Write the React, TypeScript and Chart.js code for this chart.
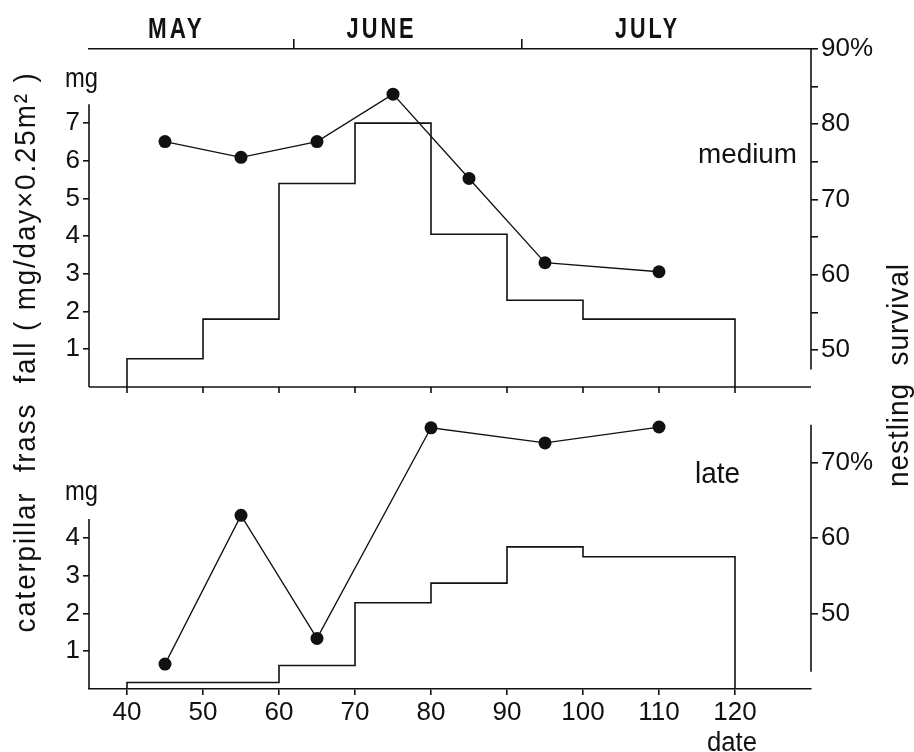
import { useEffect, useRef } from 'react';
import { Chart, registerables } from 'chart.js';

Chart.register(...registerables);

// ---------- data ----------
const DATE_TICKS = [40, 50, 60, 70, 80, 90, 100, 110, 120];
const MONTHS = ['MAY', 'JUNE', 'JULY'];
const MONTH_CENTERS = [46.5, 73.5, 108.5];
const MONTH_STARTS = [62, 92];

const BIN_STARTS = [40, 50, 60, 70, 80, 90, 100, 110];
const BIN_END = 120;
const FRASS_MEDIUM = [0.75, 1.8, 5.4, 7.0, 4.05, 2.3, 1.8, 1.8];
const FRASS_LATE = [0.17, 0.17, 0.62, 2.28, 2.8, 3.76, 3.5, 3.5];

const SURV_MEDIUM_DATES = [45, 55, 65, 75, 85, 95, 110];
const SURV_MEDIUM = [77.7, 75.6, 77.7, 84.0, 72.8, 61.6, 60.4];
const SURV_LATE_DATES = [45, 55, 65, 80, 95, 110];
const SURV_LATE = [43.3, 63.0, 46.7, 74.6, 72.6, 74.7];

const FRASS_TICKS_MEDIUM = [1, 2, 3, 4, 5, 6, 7];
const FRASS_TICKS_LATE = [1, 2, 3, 4];
const SURV_TICKS_MEDIUM = [50, 55, 60, 65, 70, 75, 80, 85, 90];
const SURV_TICKS_LATE = [50, 60, 70];

// ---------- style ----------
const INK = '#111';
const NUM_FONT = "'Liberation Sans', Arial, Helvetica, sans-serif";
const TXT_FONT = "'Liberation Sans', Arial, Helvetica, sans-serif";

type TextOpts = {
  size: number;
  width?: number;
  rotate?: boolean;
  spacing?: number;
  wordSpacing?: number;
  weight?: string;
};

function fitText(ctx: CanvasRenderingContext2D, text: string, cx: number, base: number, o: TextOpts) {
  ctx.save();
  ctx.font = `${o.weight || 'normal'} ${o.size}px ${TXT_FONT}`;
  (ctx as any).letterSpacing = `${o.spacing || 0}px`;
  (ctx as any).wordSpacing = `${o.wordSpacing || 0}px`;
  ctx.fillStyle = INK;
  ctx.textAlign = 'center';
  ctx.textBaseline = 'alphabetic';
  const w = ctx.measureText(text).width;
  const sx = o.width ? o.width / w : 1;
  if (o.rotate) {
    ctx.translate(base, cx);
    ctx.rotate(-Math.PI / 2);
  } else {
    ctx.translate(cx, base);
  }
  ctx.scale(sx, 1);
  ctx.fillText(text, 0, 0);
  ctx.restore();
}

const annotate = {
  id: 'annotate',
  afterDraw(chart: any) {
    const ctx: CanvasRenderingContext2D = chart.ctx;
    const s = chart.scales;
    const { left, right } = chart.chartArea;
    ctx.save();
    ctx.strokeStyle = INK;
    ctx.lineWidth = 1.6;
    const line = (x0: number, y0: number, x1: number, y1: number) => {
      ctx.beginPath();
      ctx.moveTo(x0, y0);
      ctx.lineTo(x1, y1);
      ctx.stroke();
    };
    // vertical axis lines with their own extents
    line(left, s.yTopL.getPixelForValue(0), left, s.yTopL.getPixelForValue(7.5));
    line(left, s.yBotL.getPixelForValue(0), left, s.yBotL.getPixelForValue(4.5));
    line(right, s.yTopR.getPixelForValue(47.4), right, s.yTopR.getPixelForValue(90));
    line(right, s.yBotR.getPixelForValue(42.3), right, s.yBotR.getPixelForValue(75));
    // baseline of upper panel with date ticks
    const y0 = s.yTopL.getPixelForValue(0);
    line(left, y0, right, y0);
    for (const d of DATE_TICKS) {
      const px = s.x.getPixelForValue(d);
      line(px, y0, px, y0 + 6);
    }
    ctx.restore();

    // month names
    const mW = [57, 70, 65];
    MONTHS.forEach((m, i) => {
      fitText(ctx, m, s.xTop.getPixelForValue(MONTH_CENTERS[i]), 38, {
        size: 29, width: mW[i], spacing: 4, weight: 'bold',
      });
    });
    fitText(ctx, 'mg', 81.5, 87, { size: 28, width: 33 });
    fitText(ctx, 'mg', 81.5, 500, { size: 28, width: 33 });
    fitText(ctx, 'medium', 747.5, 163, { size: 27, width: 99 });
    fitText(ctx, 'late', 717.5, 483, { size: 30, width: 45 });
    fitText(ctx, 'date', 732, 751, { size: 27, width: 50 });
    fitText(ctx, 'caterpillar  frass  fall ( mg/day×0.25m² )', 352, 35, {
      size: 30, width: 561, rotate: true, spacing: 2,
    });
    fitText(ctx, 'nestling  survival', 375, 908, { size: 30, width: 224, rotate: true, spacing: 1 });
  },
};

function yScale(opts: {
  position: 'left' | 'right';
  min: number;
  max: number;
  ticks: number[];
  weight: number;
  stackWeight: number;
  label?: (v: number) => string;
  tickLength: number;
  width: number;
}) {
  return {
    type: 'linear',
    position: opts.position,
    stack: opts.position,
    stackWeight: opts.stackWeight,
    weight: opts.weight,
    min: opts.min,
    max: opts.max,
    afterBuildTicks: (sc: any) => {
      sc.ticks = opts.ticks.map((v) => ({ value: v }));
    },
    afterFit: (sc: any) => {
      sc.width = opts.width;
    },
    border: { display: false },
    grid: {
      drawOnChartArea: false,
      drawTicks: true,
      tickLength: opts.tickLength,
      color: INK,
      lineWidth: 1.6,
    },
    ticks: {
      color: INK,
      autoSkip: false,
      padding: 3,
      font: { family: NUM_FONT, size: 26 },
      callback: (v: any) => (opts.label ? opts.label(Number(v)) : String(v)),
    },
  };
}

export default function App() {
  const ref = useRef<HTMLCanvasElement>(null);

  useEffect(() => {
    const canvas = ref.current;
    if (!canvas) return;

    const stepPoints = (starts: number[], vals: number[]) => {
      const p: { x: number; y: number }[] = [{ x: starts[0], y: 0 }];
      starts.forEach((st, i) => p.push({ x: st, y: vals[i] }));
      p.push({ x: BIN_END, y: vals[vals.length - 1] });
      p.push({ x: BIN_END, y: 0 });
      return p;
    };
    const pts = (xs: number[], ys: number[]) => xs.map((x, i) => ({ x, y: ys[i] }));

    const stepStyle = {
      stepped: true,
      borderColor: INK,
      borderWidth: 1.6,
      pointRadius: 0,
      fill: false,
      xAxisID: 'x',
    };
    const dotStyle = {
      borderColor: INK,
      borderWidth: 1.3,
      pointRadius: 6.5,
      pointBackgroundColor: INK,
      pointBorderWidth: 0,
      fill: false,
      xAxisID: 'x',
    };

    const chart = new Chart(canvas, {
      type: 'line',
      data: {
        datasets: [
          { ...stepStyle, data: stepPoints(BIN_STARTS, FRASS_MEDIUM), yAxisID: 'yTopL' },
          { ...dotStyle, data: pts(SURV_MEDIUM_DATES, SURV_MEDIUM), yAxisID: 'yTopR' },
          { ...stepStyle, data: stepPoints(BIN_STARTS, FRASS_LATE), yAxisID: 'yBotL' },
          { ...dotStyle, data: pts(SURV_LATE_DATES, SURV_LATE), yAxisID: 'yBotR' },
        ] as any,
      },
      options: {
        responsive: false,
        animation: false,
        devicePixelRatio: 1,
        events: [],
        layout: { padding: 0 },
        plugins: { legend: { display: false }, tooltip: { enabled: false }, title: { display: false } },
        scales: {
          x: {
            type: 'linear',
            position: 'bottom',
            min: 35,
            max: 130,
            afterBuildTicks: (sc: any) => {
              sc.ticks = DATE_TICKS.map((v) => ({ value: v }));
            },
            afterFit: (sc: any) => {
              sc.height = 63;
            },
            border: { display: true, color: INK, width: 1.6 },
            grid: { drawOnChartArea: false, drawTicks: true, tickLength: 6, color: INK, lineWidth: 1.6 },
            ticks: {
              color: INK,
              autoSkip: false,
              maxRotation: 0,
              padding: 2,
              font: { family: NUM_FONT, size: 26 },
              callback: (v: any) => String(v),
            },
          },
          xTop: {
            type: 'linear',
            position: 'top',
            min: 35,
            max: 130,
            afterBuildTicks: (sc: any) => {
              sc.ticks = MONTH_STARTS.map((v) => ({ value: v }));
            },
            afterFit: (sc: any) => {
              sc.height = 49;
            },
            border: { display: true, color: INK, width: 1.6 },
            grid: { drawOnChartArea: false, drawTicks: true, tickLength: 10, color: INK, lineWidth: 1.6 },
            ticks: { display: false },
          },
          yTopL: yScale({
            position: 'left', min: -0.345, max: 8.966, ticks: FRASS_TICKS_MEDIUM,
            weight: 1, stackWeight: 351, tickLength: 6, width: 89,
          }),
          yBotL: yScale({
            position: 'left', min: 0, max: 7.646, ticks: FRASS_TICKS_LATE,
            weight: 0, stackWeight: 289, tickLength: 6, width: 89,
          }),
          yTopR: yScale({
            position: 'right', min: 43.36, max: 90, ticks: SURV_TICKS_MEDIUM,
            weight: 0, stackWeight: 351, tickLength: 7, width: 103,
            label: (v) => (v === 90 ? '90%' : v % 10 === 0 ? String(v) : ''),
          }),
          yBotR: yScale({
            position: 'right', min: 40, max: 78.28, ticks: SURV_TICKS_LATE,
            weight: 1, stackWeight: 289, tickLength: 7, width: 103,
            label: (v) => (v === 70 ? '70%' : String(v)),
          }),
        } as any,
      },
      plugins: [annotate],
    });

    return () => chart.destroy();
  }, []);

  return (
    <div style={{ position: 'fixed', left: 0, top: 0, width: 914, height: 752, background: '#fff' }}>
      <canvas ref={ref} width={914} height={752} style={{ display: 'block' }} />
    </div>
  );
}
